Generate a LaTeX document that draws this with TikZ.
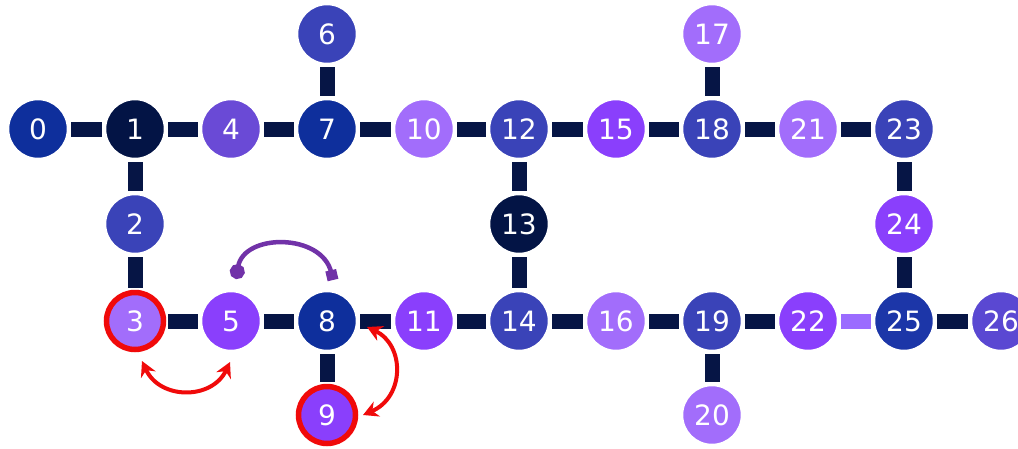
\documentclass[tikz,border=0pt]{standalone}
\usepackage{fontspec}
\setmainfont{DejaVu Sans}
\usetikzlibrary{arrows.meta}
\definecolor{barc}{HTML}{061545}
\definecolor{bA}{HTML}{0E2F9C}
\definecolor{bN}{HTML}{031445}
\definecolor{bI}{HTML}{3A43B8}
\definecolor{pM}{HTML}{8A3FFC}
\definecolor{pL}{HTML}{A26DFB}
\definecolor{pF}{HTML}{6A4AD6}
\definecolor{pG}{HTML}{5A48D2}
\definecolor{bD}{HTML}{1C36A8}
\definecolor{lbar}{HTML}{9B6CFF}
\definecolor{arrp}{HTML}{7132A8}
\definecolor{ringr}{HTML}{F00A0A}
\begin{document}
\begin{tikzpicture}[x=1pt,y=-1pt,
  qnode/.style={circle, minimum size=60pt, inner sep=0pt, draw=white, line width=2.5pt,
    text=white, font=\fontsize{28}{28}\selectfont},
  bar/.style={draw=barc, line width=15pt, shorten <=2pt, shorten >=2pt},
  ring/.style={draw=ringr, line width=5.5pt},
  swap/.style={draw=ringr, line width=4pt, {Stealth[length=15pt,width=16pt]}-{Stealth[length=15pt,width=16pt]}},
  gate/.style={draw=arrp, line width=4.5pt, {Circle[length=15pt,width=15pt]}-{Square[length=10pt,width=11pt]}}]
\useasboundingbox[fill=white] (0,0) rectangle (1018,448);
% row 1
\node[qnode, fill=bA] (n0) at (38,129) {0};
\node[qnode, fill=bN] (n1) at (135,129) {1};
\node[qnode, fill=pF] (n4) at (231,129) {4};
\node[qnode, fill=bA] (n7) at (327,129) {7};
\node[qnode, fill=pL] (n10) at (424,129) {10};
\node[qnode, fill=bI] (n12) at (519,129) {12};
\node[qnode, fill=pM] (n15) at (616,129) {15};
\node[qnode, fill=bI] (n18) at (712,129) {18};
\node[qnode, fill=pL] (n21) at (808,129) {21};
\node[qnode, fill=bI] (n23) at (904,129) {23};
% row 0
\node[qnode, fill=bI] (n6) at (327,34) {6};
\node[qnode, fill=pL] (n17) at (712,34) {17};
% row 2
\node[qnode, fill=bI] (n2) at (135,224) {2};
\node[qnode, fill=bN] (n13) at (519,224) {13};
\node[qnode, fill=pM] (n24) at (904,224) {24};
% row 3
\node[qnode, fill=pL] (n3) at (135,321) {3};
\node[qnode, fill=pM] (n5) at (231,321) {5};
\node[qnode, fill=bA] (n8) at (327,321) {8};
\node[qnode, fill=pM] (n11) at (424,321) {11};
\node[qnode, fill=bI] (n14) at (519,321) {14};
\node[qnode, fill=pL] (n16) at (616,321) {16};
\node[qnode, fill=bI] (n19) at (712,321) {19};
\node[qnode, fill=pM] (n22) at (808,321) {22};
\node[qnode, fill=bD] (n25) at (904,321) {25};
\node[qnode, fill=pG] (n26) at (1001,321) {26};
% row 4
\node[qnode, fill=pM] (n9) at (327,415) {9};
\node[qnode, fill=pL] (n20) at (712,415) {20};
% couplers
\foreach \a/\b in {n0/n1,n1/n4,n4/n7,n7/n10,n10/n12,n12/n15,n15/n18,n18/n21,n21/n23,
  n6/n7,n17/n18,n1/n2,n2/n3,n12/n13,n13/n14,n23/n24,n24/n25,
  n3/n5,n5/n8,n8/n11,n11/n14,n14/n16,n16/n19,n19/n22,n25/n26,n8/n9,n19/n20}
  \draw[bar] (\a) -- (\b);
\draw[bar, draw=lbar] (n22) -- (n25);
% red rings
\draw[ring] (n3.center) circle (28.5pt);
\draw[ring] (n9.center) circle (28.5pt);
% swap arrows
\coordinate (s1a) at (142,361);
\coordinate (s1b) at (230,362);
\draw[swap] (s1a) .. controls (160,400) and (212,400) .. (s1b);
\coordinate (s2a) at (367,327);
\coordinate (s2b) at (363,415);
\draw[swap] (s2a) .. controls (405,345) and (405,397) .. (s2b);
% gate arrow
\coordinate (g1) at (236,279);
\coordinate (g2) at (333,280);
\draw[gate] (g1) .. controls (244,233) and (322,233) .. (g2);
\end{tikzpicture}
\end{document}
